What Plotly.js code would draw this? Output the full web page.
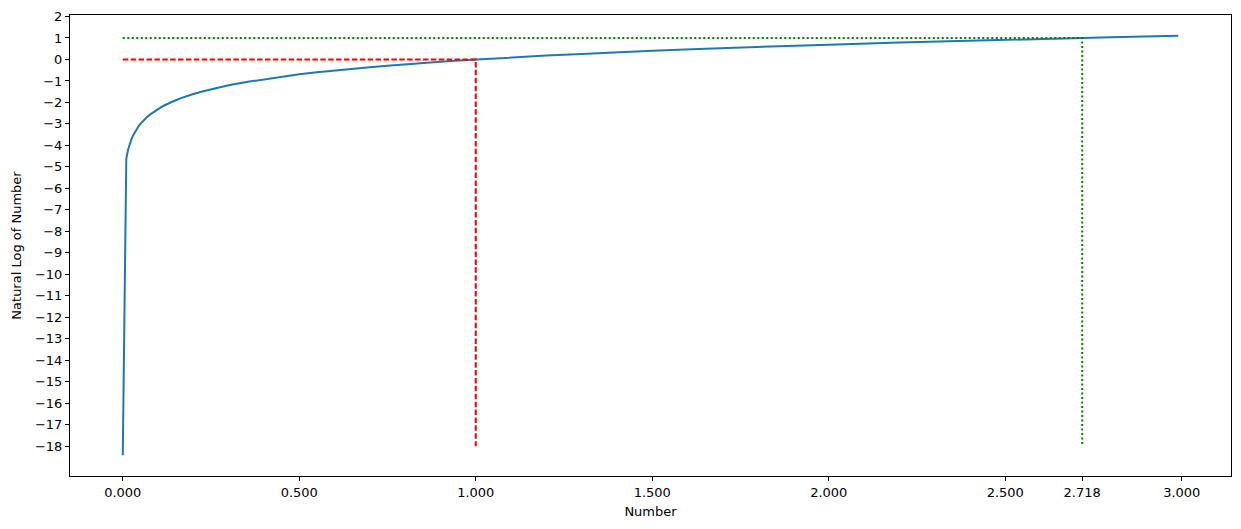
<!DOCTYPE html>
<html>
<head>
<meta charset="utf-8">
<script src="https://cdn.plot.ly/plotly-3.0.1.min.js"></script>
<style>html,body{margin:0;padding:0;background:#fff;}</style>
</head>
<body>
<div id="chart" style="width:1241px;height:529px;"></div>
<script>
// Curve values (Number vs its natural log)
const numberX = [0.00000001, 0.01, 0.015, 0.02, 0.025, 0.03, 0.035, 0.04, 0.045, 0.05, 0.06, 0.07, 0.08, 0.09, 0.1, 0.11, 0.12, 0.13, 0.14, 0.15, 0.165, 0.18, 0.2, 0.225, 0.25, 0.275, 0.3, 0.35, 0.4, 0.45, 0.5, 0.55, 0.6, 0.65, 0.7, 0.75, 0.8, 0.85, 0.9, 0.95, 1.0, 1.1, 1.2, 1.3, 1.4, 1.5, 1.65, 1.8, 2.0, 2.2, 2.4, 2.6, 2.8, 2.99];
const logY = [-18.42, -4.61, -4.20, -3.91, -3.69, -3.51, -3.35, -3.22, -3.10, -3.00, -2.81, -2.66, -2.53, -2.41, -2.30, -2.21, -2.12, -2.04, -1.97, -1.90, -1.80, -1.71, -1.61, -1.49, -1.39, -1.29, -1.20, -1.05, -0.92, -0.80, -0.69, -0.60, -0.51, -0.43, -0.36, -0.29, -0.22, -0.16, -0.11, -0.05, 0.00, 0.10, 0.18, 0.26, 0.34, 0.41, 0.50, 0.59, 0.69, 0.79, 0.88, 0.96, 1.03, 1.10];

// Reference guide lines
const redX = [0, 1, 1];
const redY = [0, 0, -18];
const greenX = [0, 2.718, 2.718];
const greenY = [1, 1, -18];

// Tick labels
const xTicks = [0, 0.5, 1, 1.5, 2, 2.5, 2.718, 3];
const xTickText = ["0.000", "0.500", "1.000", "1.500", "2.000", "2.500", "2.718", "3.000"];
const yTicks = [2, 1, 0, -1, -2, -3, -4, -5, -6, -7, -8, -9, -10, -11, -12, -13, -14, -15, -16, -17, -18];

const traces = [
  {x: numberX, y: logY, mode: 'lines', line: {color: '#1f77b4', width: 2}},
  {x: redX, y: redY, mode: 'lines', line: {color: '#ff0000', width: 2, dash: '5.5px,2.4px'}},
  {x: greenX, y: greenY, mode: 'lines', line: {color: '#008000', width: 2, dash: '2px,2.5px'}}
];

const axisCommon = {
  showgrid: false, zeroline: false, showline: true, mirror: true,
  linecolor: '#000', linewidth: 1, ticks: 'outside', ticklen: 4, tickwidth: 1, tickcolor: '#000',
  tickfont: {family: 'DejaVu Sans', size: 13, color: '#000'}
};

const layout = {
  width: 1241, height: 529,
  margin: {l: 70, r: 10, t: 15, b: 53},
  paper_bgcolor: '#fff', plot_bgcolor: '#fff',
  showlegend: false,
  font: {family: 'DejaVu Sans', size: 13, color: '#000'},
  xaxis: Object.assign({}, axisCommon, {
    range: [-0.1495, 3.1395], tickmode: 'array', tickvals: xTicks, ticktext: xTickText,
    title: {text: 'Number', font: {family: 'DejaVu Sans', size: 13, color: '#000'}, standoff: 8}
  }),
  yaxis: Object.assign({}, axisCommon, {
    range: [-19.39, 2.07], tickmode: 'array', tickvals: yTicks,
    title: {text: 'Natural Log of Number', font: {family: 'DejaVu Sans', size: 13, color: '#000'}, standoff: 10}
  })
};

Plotly.newPlot('chart', traces, layout, {displayModeBar: false, staticPlot: true});
</script>
</body>
</html>
